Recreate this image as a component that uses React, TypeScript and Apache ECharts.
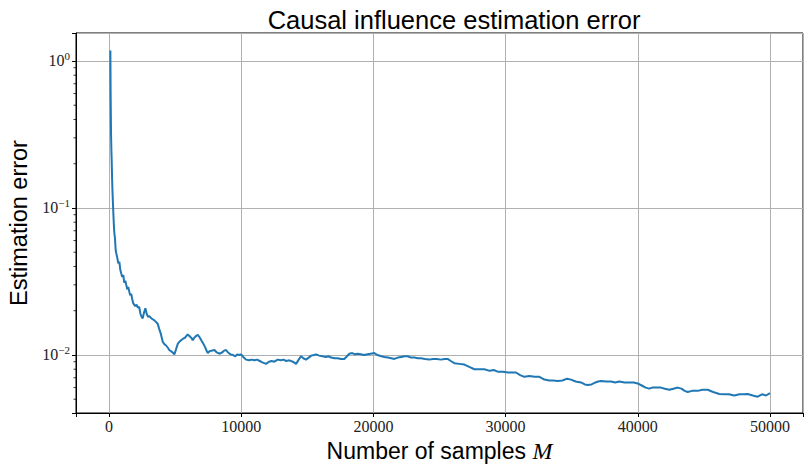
import React, { useEffect, useRef } from 'react';
import * as echarts from 'echarts';

const sampleCounts = [
  100, 120, 150, 180, 200, 230, 260, 300, 330, 360, 400, 450, 500, 550, 620, 700, 780, 850, 920, 1000,
  1080, 1150, 1230, 1300, 1380, 1450, 1530, 1600, 1680, 1750, 1830, 1900, 1980, 2080, 2180, 2280, 2380, 2480, 2550, 2650,
  2750, 2850, 2950, 3050, 3180, 3300, 3430, 3550, 3680, 3800, 3930, 4060, 4200, 4320, 4450, 4560, 4700, 4850, 4940, 5050,
  5200, 5320, 5450, 5600, 5750, 5950, 6100, 6250, 6330, 6450, 6600, 6710, 6850, 7000, 7090, 7250, 7400, 7470, 7600, 7750,
  7970, 8150, 8340, 8550, 8700, 8850, 9000, 9200, 9360, 9550, 9700, 9850, 9990, 10200, 10360, 10600, 10800, 11000, 11200, 11400,
  11600, 11880, 12100, 12300, 12500, 12760, 13000, 13200, 13400, 13640, 13900, 14150, 14350, 14520, 14700, 14900, 15100, 15300, 15500, 15660,
  15900, 16150, 16410, 16600, 16800, 17050, 17300, 17550, 17800, 18000, 18180, 18400, 18600, 18810, 19050, 19310, 19550, 19800, 20070, 20300,
  20600, 20830, 21100, 21350, 21580, 21850, 22100, 22350, 22590, 22850, 23100, 23350, 23600, 23900, 24230, 24500, 24800, 25100, 25400, 25620,
  25850, 26120, 26500, 26880, 27250, 27640, 28000, 28390, 28800, 29100, 29400, 29800, 30200, 30500, 30790, 31100, 31420, 31800, 32200, 32560,
  32930, 33300, 33600, 33940, 34300, 34650, 34950, 35300, 35700, 36000, 36210, 36500, 36800, 37000, 37220, 37600, 37970, 38300, 38600, 39000,
  39400, 39700, 39990, 40300, 40600, 40870, 41100, 41400, 41750, 42050, 42380, 42700, 43020, 43300, 43550, 43780, 44100, 44530, 44900, 45290,
  45700, 46170, 46500, 46900, 47300, 47700, 48000, 48310, 48700, 49070, 49400, 49700, 50000,
];

const errors = [
  1.18, 0.6, 0.32, 0.24, 0.21, 0.16, 0.13, 0.105, 0.09, 0.078, 0.068, 0.062, 0.052, 0.049, 0.046, 0.042, 0.043, 0.038, 0.036, 0.034,
  0.035, 0.031, 0.032, 0.030, 0.028, 0.029, 0.027, 0.0255, 0.026, 0.024, 0.0225, 0.022, 0.0215, 0.022, 0.021, 0.0212, 0.019, 0.018, 0.0178, 0.0195,
  0.0208, 0.019, 0.0182, 0.0184, 0.0178, 0.0175, 0.0172, 0.0168, 0.0163, 0.015, 0.0138, 0.0123, 0.0118, 0.0116, 0.0112, 0.0108, 0.0106, 0.0103, 0.0101, 0.0108,
  0.0119, 0.0123, 0.0126, 0.0129, 0.0131, 0.0138, 0.0134, 0.013, 0.0126, 0.0131, 0.0135, 0.0137, 0.0132, 0.0125, 0.0121, 0.0114, 0.0106, 0.0103, 0.0106, 0.0107,
  0.0108, 0.0104, 0.0102, 0.0104, 0.0107, 0.0108, 0.0104, 0.0101, 0.0100, 0.0098, 0.0101, 0.0100, 0.0101, 0.0096, 0.0093, 0.0092, 0.0093, 0.0092, 0.0093, 0.0091,
  0.0089, 0.0087, 0.0090, 0.0091, 0.0090, 0.0093, 0.0092, 0.0093, 0.0091, 0.0092, 0.0090, 0.0087, 0.0093, 0.0098, 0.0095, 0.0093, 0.0096, 0.0099, 0.0100, 0.0101,
  0.0099, 0.0098, 0.0097, 0.0098, 0.0096, 0.0095, 0.0095, 0.0094, 0.0094, 0.0098, 0.0102, 0.0103, 0.0101, 0.0102, 0.0101, 0.0100, 0.0101, 0.0102, 0.0103, 0.0100,
  0.0098, 0.0097, 0.0096, 0.0095, 0.0094, 0.0096, 0.0097, 0.0098, 0.0098, 0.0096, 0.0096, 0.0095, 0.0095, 0.0094, 0.0093, 0.0094, 0.0094, 0.0093, 0.0094, 0.0094,
  0.0091, 0.0088, 0.0087, 0.0086, 0.0083, 0.0080, 0.0080, 0.0080, 0.0078, 0.0079, 0.0077, 0.0077, 0.0076, 0.0076, 0.0076, 0.0073, 0.0071, 0.0072, 0.0071, 0.0071,
  0.0068, 0.0067, 0.0067, 0.00665, 0.0067, 0.0069, 0.0068, 0.0066, 0.0065, 0.0063, 0.00625, 0.0063, 0.0065, 0.0066, 0.00665, 0.0066, 0.0066, 0.0065, 0.0066, 0.0065,
  0.0065, 0.0065, 0.0064, 0.0062, 0.0060, 0.0059, 0.0060, 0.0060, 0.0060, 0.0059, 0.0058, 0.0059, 0.0060, 0.0059, 0.0057, 0.0056, 0.0057, 0.0057, 0.0058, 0.0058,
  0.0056, 0.00543, 0.0054, 0.0054, 0.0053, 0.0054, 0.0054, 0.00543, 0.0053, 0.0052, 0.0054, 0.0053, 0.0055,
];

const xMin = -2500;
const xMax = 52500;
const yMin = 0.00403;
const yMax = 1.55;
const minorTickValues = [
  0.005, 0.006, 0.007, 0.008, 0.009,
  0.02, 0.03, 0.04, 0.05, 0.06, 0.07, 0.08, 0.09,
  0.2, 0.3, 0.4, 0.5, 0.6, 0.7, 0.8, 0.9,
];

const titleText = 'Causal influence estimation error';
const xLabelText = 'Number of samples ';
const xLabelMath = 'M';
const yLabelText = 'Estimation error';

const SERIF = '"Liberation Serif", "DejaVu Serif", serif';
const SANS = '"Liberation Sans", "DejaVu Sans", sans-serif';

export default function App() {
  const ref = useRef<HTMLDivElement>(null);
  useEffect(() => {
    if (!ref.current) return;
    const chart = echarts.init(ref.current, null, { renderer: 'svg' });
    const lineData = sampleCounts.map((x, i) => [x, errors[i]]);
    const option: any = {
      animation: false,
      backgroundColor: '#fff',
      title: {
        text: titleText,
        left: 449,
        textAlign: 'center',
        top: 2,
        textStyle: { fontFamily: SANS, fontSize: 25.5, fontWeight: 'normal', color: '#000' },
      },
      grid: {
        left: 76,
        right: 4,
        top: 33,
        bottom: 52,
        show: true,
        borderColor: '#000',
        borderWidth: 1,
        backgroundColor: 'transparent',
        outerBoundsMode: 'none',
        containLabel: false,
      },
      xAxis: {
        type: 'value',
        min: xMin,
        max: xMax,
        splitNumber: 5,
        name: '{a|' + xLabelText + '}{m|' + xLabelMath + '}',
        nameLocation: 'middle',
        nameGap: 24,
        nameTextStyle: {
          rich: {
            a: { fontFamily: SANS, fontSize: 23, color: '#000' },
            m: { fontFamily: SERIF, fontSize: 24, fontStyle: 'italic', color: '#000' },
          },
        },
        axisLine: { show: true, onZero: false, lineStyle: { color: '#000', width: 1 } },
        axisTick: { show: true, length: 4, lineStyle: { color: '#000', width: 1 } },
        axisLabel: {
          margin: 5,
          fontFamily: SERIF,
          fontSize: 16,
          color: '#222',
          formatter: (v: number) => (Math.abs(v % 10000) < 1e-6 ? String(v) : ''),
        },
        splitLine: { show: true, lineStyle: { color: '#b0b0b0', width: 1 } },
      },
      yAxis: {
        type: 'log',
        logBase: 10,
        min: yMin,
        max: yMax,
        name: yLabelText,
        nameLocation: 'middle',
        nameGap: 44,
        nameTextStyle: { fontFamily: SANS, fontSize: 23.5, color: '#000' },
        axisLine: { show: true, onZero: false, lineStyle: { color: '#000', width: 1 } },
        axisTick: { show: true, length: 4, lineStyle: { color: '#000', width: 1 } },
        axisLabel: {
          margin: 6,
          color: '#222',
          formatter: (v: number) => {
            const l = Math.log10(v);
            const k = Math.round(l);
            if (Math.abs(l - k) > 1e-6) return '';
            const exp = k < 0 ? '\u2212' + -k : String(k);
            return '{b|10}{s|' + exp + '}';
          },
          rich: {
            b: { fontFamily: SERIF, fontSize: 16, color: '#222' },
            s: { fontFamily: SERIF, fontSize: 11, color: '#222', padding: [0, 0, 9, 0] },
          },
        },
        splitLine: { show: true, lineStyle: { color: '#b0b0b0', width: 1 } },
      },
      series: [
        {
          type: 'line',
          data: lineData,
          showSymbol: false,
          symbol: 'none',
          lineStyle: { color: '#1f77b4', width: 2 },
          itemStyle: { color: '#1f77b4' },
          z: 3,
        },
        {
          type: 'custom',
          silent: true,
          clip: false,
          data: minorTickValues.map((v) => [xMin, v]),
          renderItem: (params: any, api: any) => {
            const p = api.coord([xMin, api.value(1)]);
            return {
              type: 'line',
              shape: { x1: p[0], y1: p[1], x2: p[0] - 2.5, y2: p[1] },
              style: { stroke: '#000', lineWidth: 0.8 },
            };
          },
          z: 4,
        },
      ],
    };
    chart.setOption(option);
    return () => chart.dispose();
  }, []);
  return (
    <div
      ref={ref}
      style={{ position: 'fixed', left: 0, top: 0, width: 807, height: 465, background: '#fff' }}
    />
  );
}
